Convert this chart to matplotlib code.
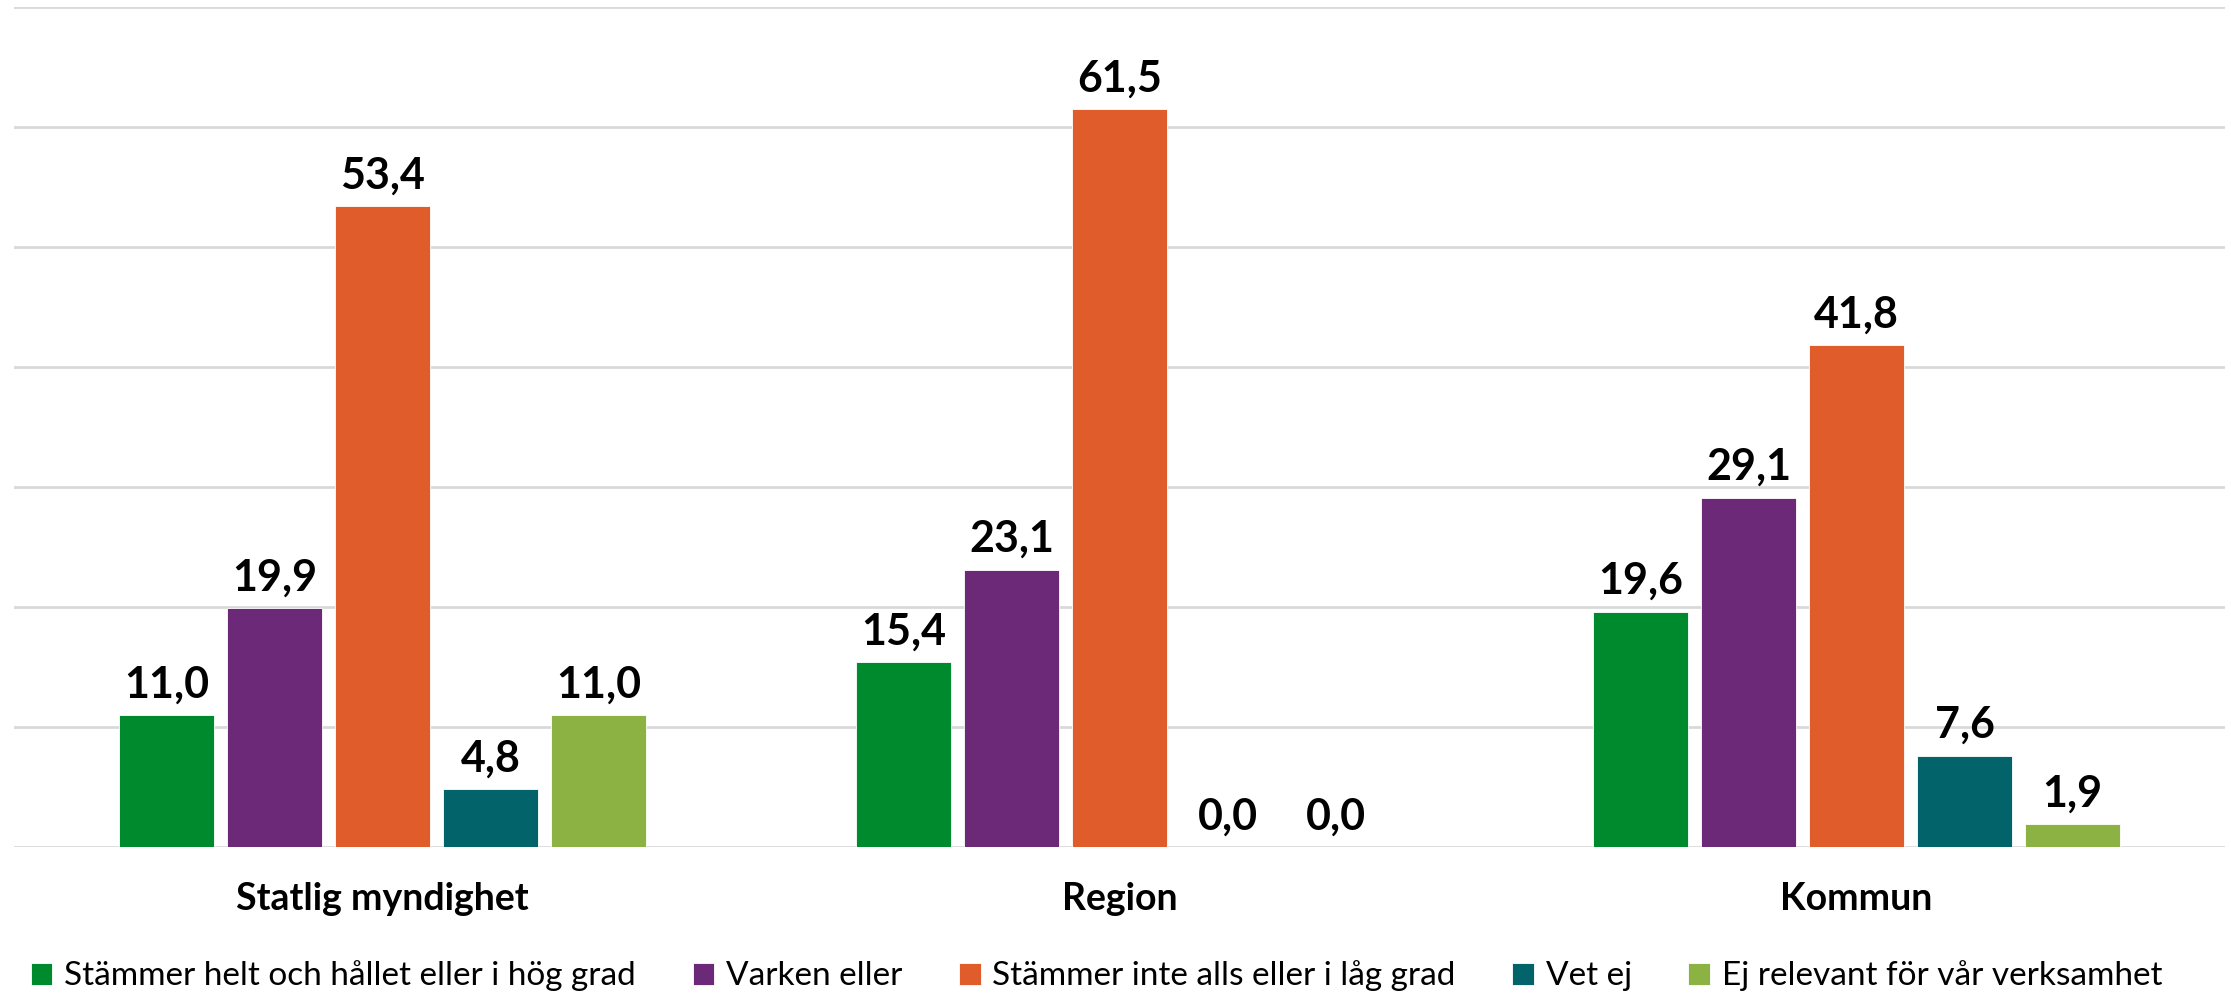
import matplotlib
matplotlib.use("Agg")
import matplotlib.pyplot as plt
import numpy as np

categories = ["Statlig myndighet", "Region", "Kommun"]
series_names = [
    "Stämmer helt och hållet eller i hög grad",
    "Varken eller",
    "Stämmer inte alls eller i låg grad",
    "Vet ej",
    "Ej relevant för vår verksamhet",
]
values_hog = [11.0, 15.4, 19.6]
values_varken = [19.9, 23.1, 29.1]
values_lag = [53.4, 61.5, 41.8]
values_vetej = [4.8, 0.0, 7.6]
values_ejrel = [11.0, 0.0, 1.9]
series_values = [values_hog, values_varken, values_lag, values_vetej, values_ejrel]
colors = ["#008A2E", "#6B2977", "#E05C2A", "#02636B", "#8BB242"]

plt.rcParams['font.family'] = ['Lato', 'DejaVu Sans']

fig = plt.figure(figsize=(22.31, 9.96), dpi=100)
ax = fig.add_axes([14/2231, 1-847/996, (2225-14)/2231, (847-7)/996])

x = np.arange(len(categories))
step = 0.1465
width = 0.128
for i, (name, vals, c) in enumerate(zip(series_names, series_values, colors)):
    pos = x + (i - 2) * step
    ax.bar(pos, vals, width=width, color=c, label=name, zorder=3,
           edgecolor='white', linewidth=0.6)
    for p, v in zip(pos, vals):
        ax.text(p, v + 0.9, f"{v:.1f}".replace('.', ','), ha='center', va='bottom',
                fontsize=31, fontweight='bold', color='black')

ax.set_xlim(-0.5, 2.5)
ax.set_ylim(0, 70)
ax.set_yticks(np.arange(0, 71, 10))
ax.yaxis.grid(True, color='#D9D9D9', linewidth=2, zorder=0)
ax.tick_params(axis='y', left=False, labelleft=False)
ax.tick_params(axis='x', bottom=False, labelsize=27, pad=22)
ax.set_xticks(x)
ax.set_xticklabels(categories, fontweight='bold')
for s in ax.spines.values():
    s.set_visible(False)

handles, labels = ax.get_legend_handles_labels()
fig.legend(handles, labels, loc='center', bbox_to_anchor=(0.4915, 1-976/996), ncol=5,
           frameon=False, fontsize=24, handlelength=0.65, handleheight=0.65,
           handletextpad=0.35, columnspacing=1.7)

fig.savefig("out.png", dpi=100)
